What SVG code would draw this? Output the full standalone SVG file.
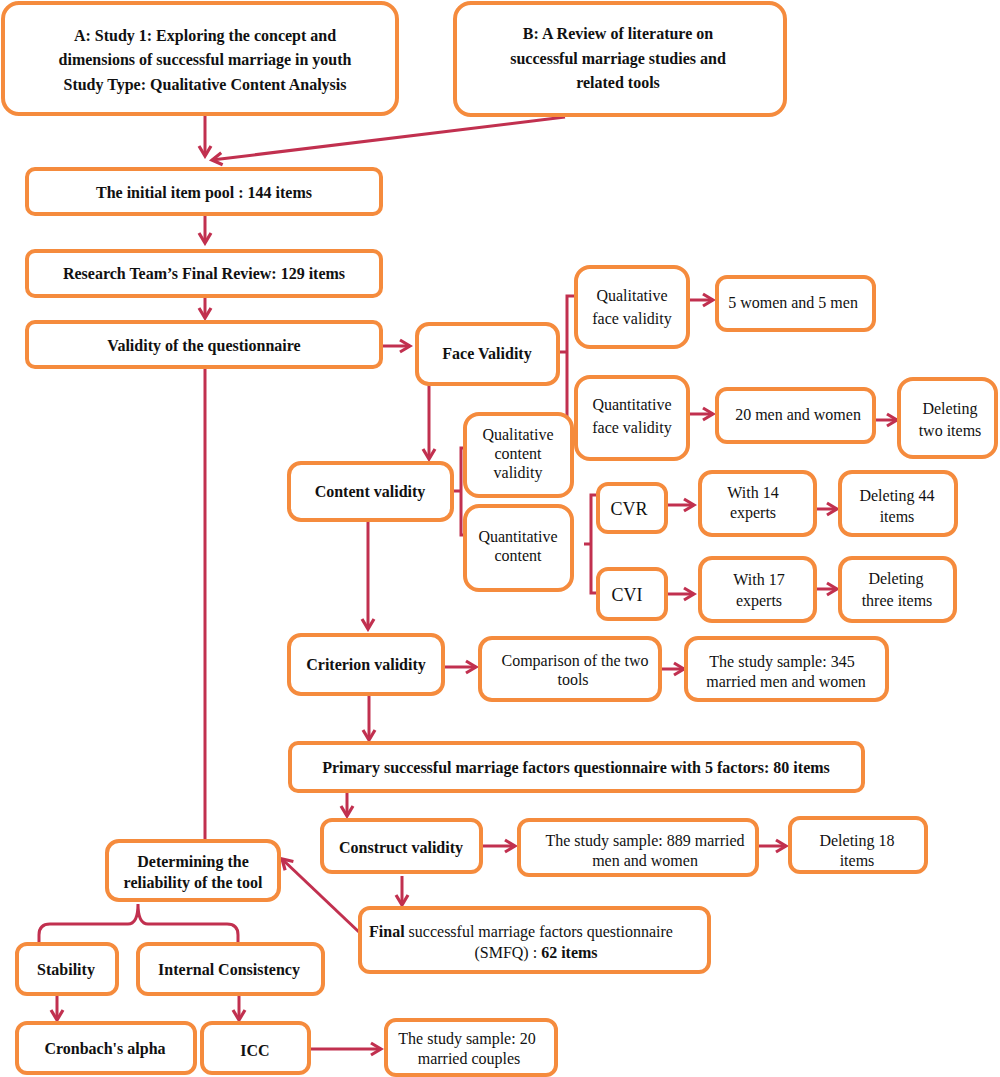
<svg xmlns="http://www.w3.org/2000/svg" width="1000" height="1077" viewBox="0 0 1000 1077">
<defs>
<marker id="ah" markerUnits="userSpaceOnUse" markerWidth="16" markerHeight="16" viewBox="0 0 16 16" refX="13" refY="8" orient="auto">
<path d="M3,2 L13,8 L3,14" fill="none" stroke="#C1304F" stroke-width="3.2" stroke-linejoin="miter"/>
</marker>
</defs>
<style>
rect.n{fill:#fff;stroke:#F58B3D;stroke-width:4}
text{font-family:"Liberation Serif","DejaVu Serif",serif;fill:#111;text-anchor:middle}
.b{font-weight:bold;font-size:16px}
.r{font-size:16px}
.big{font-size:18px}
.c line,.c path{stroke:#C1304F;stroke-width:3;fill:none}
</style>
<rect width="1000" height="1077" fill="#fff"/>
<g class="c" id="connectors">
<line x1="205" y1="116" x2="205" y2="156" marker-end="url(#ah)"/>
<line x1="565" y1="117" x2="212" y2="160" marker-end="url(#ah)"/>
<line x1="205" y1="215" x2="205" y2="243" marker-end="url(#ah)"/>
<line x1="205" y1="297" x2="205" y2="318" marker-end="url(#ah)"/>
<line x1="383" y1="346" x2="410" y2="346" marker-end="url(#ah)"/>
<path d="M558,352 H567 M576,296 H567 V431 H576"/>
<line x1="690" y1="300" x2="713" y2="300" marker-end="url(#ah)"/>
<line x1="690" y1="414" x2="713" y2="414" marker-end="url(#ah)"/>
<line x1="875" y1="420" x2="897" y2="420" marker-end="url(#ah)"/>
<line x1="429" y1="385" x2="429" y2="459" marker-end="url(#ah)"/>
<path d="M453,491 H461 M467,448 H461 V535 H467"/>
<path d="M584,544 H591 M598,495 H591 V593 H598"/>
<line x1="667" y1="505" x2="694" y2="505" marker-end="url(#ah)"/>
<line x1="816" y1="509" x2="837" y2="509" marker-end="url(#ah)"/>
<line x1="667" y1="594" x2="694" y2="594" marker-end="url(#ah)"/>
<line x1="816" y1="589" x2="837" y2="589" marker-end="url(#ah)"/>
<line x1="368" y1="521" x2="368" y2="629" marker-end="url(#ah)"/>
<line x1="444" y1="667" x2="476" y2="667" marker-end="url(#ah)"/>
<line x1="661" y1="669" x2="684" y2="669" marker-end="url(#ah)"/>
<line x1="369" y1="695" x2="369" y2="740" marker-end="url(#ah)"/>
<line x1="347" y1="792" x2="347" y2="816" marker-end="url(#ah)"/>
<line x1="482" y1="846" x2="515" y2="846" marker-end="url(#ah)"/>
<line x1="758" y1="846" x2="786" y2="846" marker-end="url(#ah)"/>
<line x1="402" y1="876" x2="402" y2="905" marker-end="url(#ah)"/>
<line x1="360" y1="933" x2="282" y2="859" marker-end="url(#ah)"/>
<line x1="205" y1="368" x2="205" y2="840"/>
<path d="M39,943 V935 Q39,924 50,924 H128 Q138,924 138,904 Q138,924 148,924 H227 Q238,924 238,935 V943"/>
<line x1="57" y1="996" x2="57" y2="1020" marker-end="url(#ah)"/>
<line x1="239" y1="996" x2="239" y2="1020" marker-end="url(#ah)"/>
<line x1="311" y1="1049" x2="381" y2="1049" marker-end="url(#ah)"/>
</g>
<g id="nA"><rect class="n" x="3" y="3" width="394" height="111" rx="16"/>
<text class="b" x="205" y="41">A: Study 1: Exploring the concept and</text>
<text class="b" x="205" y="65">dimensions of successful marriage in youth</text>
<text class="b" x="205" y="90">Study Type: Qualitative Content Analysis</text></g>
<g id="nB"><rect class="n" x="455" y="3" width="330" height="112" rx="16"/>
<text class="b" x="618" y="39">B: A Review of literature on</text>
<text class="b" x="618" y="64">successful marriage studies and</text>
<text class="b" x="618" y="88">related tools</text></g>
<g id="nPool"><rect class="n" x="27" y="169" width="354" height="45" rx="8"/>
<text class="b" x="204" y="198">The initial item pool : 144 items</text></g>
<g id="nReview"><rect class="n" x="27" y="251" width="354" height="45" rx="8"/>
<text class="b" x="204" y="279">Research Team’s Final Review: 129 items</text></g>
<g id="nValidity"><rect class="n" x="27" y="322" width="354" height="45" rx="8"/>
<text class="b" x="204" y="351">Validity of the questionnaire</text></g>
<g id="nFace"><rect class="n" x="417" y="324" width="141" height="60" rx="12"/>
<text class="b" x="487" y="359">Face Validity</text></g>
<g id="nQualFace"><rect class="n" x="576" y="267" width="112" height="80" rx="14"/>
<text class="r" x="632" y="301">Qualitative</text>
<text class="r" x="632" y="324">face validity</text></g>
<g id="nQuantFace"><rect class="n" x="576" y="377" width="112" height="82" rx="14"/>
<text class="r" x="632" y="410">Quantitative</text>
<text class="r" x="632" y="433">face validity</text></g>
<g id="n5women"><rect class="n" x="717" y="277" width="157" height="53" rx="10"/>
<text class="r" x="793" y="308">5 women and 5 men</text></g>
<g id="n20men"><rect class="n" x="717" y="389" width="157" height="53" rx="10"/>
<text class="r" x="798" y="420">20 men and women</text></g>
<g id="nDel2"><rect class="n" x="899" y="379" width="97" height="78" rx="14"/>
<text class="r" x="950" y="414">Deleting</text>
<text class="r" x="950" y="436">two items</text></g>
<g id="nContent"><rect class="n" x="289" y="463" width="163" height="57" rx="12"/>
<text class="b" x="370" y="497">Content validity</text></g>
<g id="nQualContent"><rect class="n" x="465" y="414" width="107" height="82" rx="14"/>
<text class="r" x="518" y="440">Qualitative</text>
<text class="r" x="518" y="459">content</text>
<text class="r" x="518" y="478">validity</text></g>
<g id="nQuantContent"><rect class="n" x="465" y="506" width="107" height="84" rx="14"/>
<text class="r" x="518" y="542">Quantitative</text>
<text class="r" x="518" y="561">content</text></g>
<g id="nCVR"><rect class="n" x="598" y="484" width="68" height="48" rx="10"/>
<text class="big" x="629" y="515">CVR</text></g>
<g id="nCVI"><rect class="n" x="598" y="569" width="68" height="50" rx="10"/>
<text class="big" x="627" y="601">CVI</text></g>
<g id="nW14"><rect class="n" x="700" y="472" width="115" height="63" rx="12"/>
<text class="r" x="753" y="498">With 14</text>
<text class="r" x="753" y="518">experts</text></g>
<g id="nD44"><rect class="n" x="840" y="472" width="116" height="63" rx="12"/>
<text class="r" x="897" y="501">Deleting 44</text>
<text class="r" x="897" y="522">items</text></g>
<g id="nW17"><rect class="n" x="700" y="558" width="115" height="63" rx="12"/>
<text class="r" x="759" y="585">With 17</text>
<text class="r" x="759" y="606">experts</text></g>
<g id="nD3"><rect class="n" x="840" y="558" width="115" height="63" rx="12"/>
<text class="r" x="896" y="584">Deleting</text>
<text class="r" x="897" y="606">three items</text></g>
<g id="nCriterion"><rect class="n" x="289" y="635" width="154" height="59" rx="12"/>
<text class="b" x="366" y="670">Criterion validity</text></g>
<g id="nCompare"><rect class="n" x="480" y="638" width="180" height="62" rx="12"/>
<text class="r" x="575" y="666">Comparison of the two</text>
<text class="r" x="573" y="685">tools</text></g>
<g id="nS345"><rect class="n" x="686" y="638" width="201" height="62" rx="12"/>
<text class="r" x="782" y="667">The study sample: 345</text>
<text class="r" x="786" y="687">married men and women</text></g>
<g id="nPrimary"><rect class="n" x="290" y="743" width="573" height="48" rx="8"/>
<text class="b" x="576" y="773">Primary successful marriage factors questionnaire with 5 factors: 80 items</text></g>
<g id="nConstruct"><rect class="n" x="322" y="820" width="159" height="52" rx="10"/>
<text class="b" x="401" y="853">Construct validity</text></g>
<g id="nS889"><rect class="n" x="519" y="820" width="238" height="55" rx="10"/>
<text class="r" x="645" y="846">The study sample: 889 married</text>
<text class="r" x="645" y="866">men and women</text></g>
<g id="nD18"><rect class="n" x="790" y="818" width="136" height="54" rx="10"/>
<text class="r" x="857" y="846">Deleting 18</text>
<text class="r" x="857" y="866">items</text></g>
<g id="nFinal"><rect class="n" x="360" y="908" width="349" height="64" rx="10"/>
<text class="r" x="521" y="937"><tspan font-weight="bold">Final</tspan> successful marriage factors questionnaire</text>
<text class="r" x="536" y="958">(SMFQ) : <tspan font-weight="bold">62 items</tspan></text></g>
<g id="nReliability"><rect class="n" x="107" y="841" width="172" height="59" rx="12"/>
<text class="b" x="193" y="867">Determining the</text>
<text class="b" x="193" y="888">reliability of the tool</text></g>
<g id="nStability"><rect class="n" x="17" y="944" width="100" height="50" rx="10"/>
<text class="b" x="66" y="975">Stability</text></g>
<g id="nInternal"><rect class="n" x="138" y="944" width="185" height="50" rx="10"/>
<text class="b" x="229" y="975">Internal Consistency</text></g>
<g id="nCronbach"><rect class="n" x="17" y="1023" width="178" height="50" rx="10"/>
<text class="b" x="105" y="1054">Cronbach's alpha</text></g>
<g id="nICC"><rect class="n" x="202" y="1023" width="107" height="50" rx="10"/>
<text class="b" x="255" y="1056">ICC</text></g>
<g id="nS20"><rect class="n" x="386" y="1020" width="170" height="55" rx="10"/>
<text class="r" x="467" y="1044">The study sample: 20</text>
<text class="r" x="469" y="1064">married couples</text></g>
</svg>
